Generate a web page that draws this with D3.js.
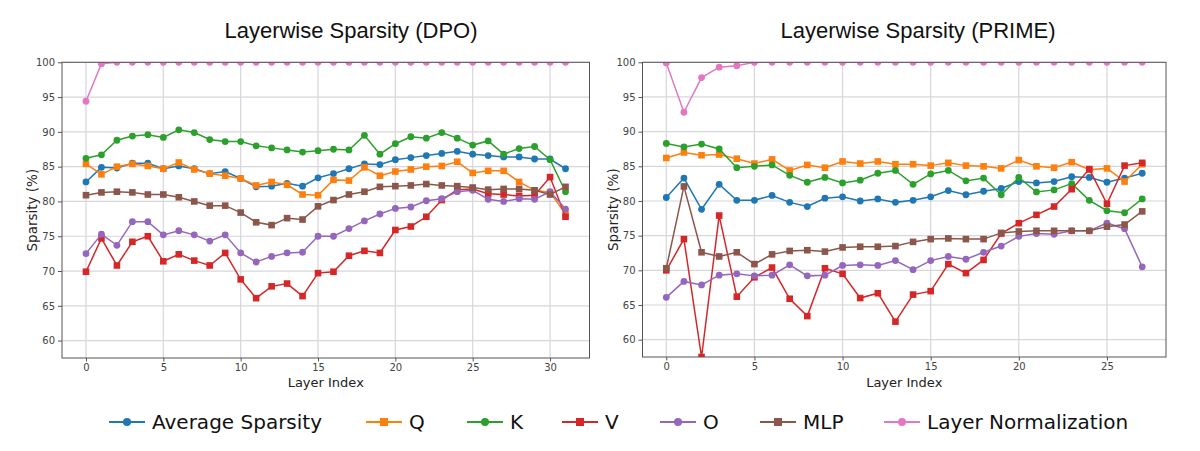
<!DOCTYPE html>
<html>
<head>
<meta charset="utf-8">
<script src="https://cdn.jsdelivr.net/npm/d3@7"></script>
<style>
  body { margin: 0; background: white; }
  svg { display: block; }
</style>
</head>
<body>
<div class="chart"></div>
<script>
// series names, colours, marker shapes (legend order)
var seriesNames = ["Average Sparsity", "Q", "K", "V", "O", "MLP", "Layer Normalization"]
var seriesColors = ["#1f77b4", "#ff7f0e", "#2ca02c", "#d62728", "#9467bd", "#8c564b", "#e377c2"]
var seriesMarkers = ["circle", "square", "circle", "square", "circle", "square", "circle"]

var yTicks = [60, 65, 70, 75, 80, 85, 90, 95, 100]
var xTicksDPO = [0, 5, 10, 15, 20, 25, 30]
var xTicksPRIME = [0, 5, 10, 15, 20, 25]

// DPO, layers 0..31
var dpoAvg = [82.8, 84.9, 84.8, 85.5, 85.5, 84.7, 85.1, 84.7, 84.0, 84.3, 83.3, 82.1, 82.2, 82.6, 82.2, 83.4, 84.0, 84.7, 85.4, 85.3, 86.0, 86.3, 86.6, 86.9, 87.2, 86.8, 86.6, 86.4, 86.4, 86.1, 86.1, 84.7]
var dpoQ = [85.4, 83.9, 85.0, 85.4, 85.1, 84.7, 85.6, 84.6, 84.0, 83.7, 83.3, 82.3, 82.8, 82.4, 81.0, 80.9, 83.1, 83.0, 84.9, 83.7, 84.3, 84.6, 85.0, 85.1, 85.7, 84.1, 84.4, 84.4, 82.8, 81.6, 81.3, 78.2]
var dpoK = [86.2, 86.7, 88.8, 89.4, 89.6, 89.2, 90.3, 89.9, 88.9, 88.6, 88.6, 88.0, 87.7, 87.4, 87.1, 87.3, 87.5, 87.4, 89.5, 86.8, 88.3, 89.3, 89.1, 89.9, 89.1, 88.1, 88.7, 86.8, 87.6, 87.9, 86.0, 81.4]
var dpoV = [69.9, 74.7, 70.8, 74.2, 75.0, 71.4, 72.4, 71.5, 70.8, 72.6, 68.8, 66.1, 67.8, 68.2, 66.4, 69.7, 69.9, 72.2, 72.9, 72.6, 75.9, 76.4, 77.8, 80.2, 81.7, 81.8, 81.1, 81.0, 80.8, 80.9, 83.5, 77.8]
var dpoO = [72.5, 75.3, 73.7, 77.1, 77.1, 75.2, 75.8, 75.2, 74.3, 75.2, 72.6, 71.3, 72.1, 72.6, 72.7, 75.0, 75.0, 76.1, 77.2, 78.2, 79.0, 79.2, 80.1, 80.4, 81.4, 81.6, 80.3, 80.0, 80.4, 80.3, 81.4, 78.9]
var dpoMLP = [80.9, 81.3, 81.4, 81.3, 81.0, 81.0, 80.6, 80.0, 79.4, 79.4, 78.4, 77.0, 76.6, 77.6, 77.4, 79.3, 80.2, 81.0, 81.4, 82.1, 82.2, 82.3, 82.5, 82.3, 82.2, 82.0, 81.7, 81.8, 81.8, 81.6, 81.0, 82.1]
var dpoLN = [94.4, 99.8, 100, 100, 100, 100, 100, 100, 100, 100, 100, 100, 100, 100, 100, 100, 100, 100, 100, 100, 100, 100, 100, 100, 100, 100, 100, 100, 100, 100, 100, 100]

// PRIME, layers 0..27
var primeAvg = [80.5, 83.3, 78.8, 82.4, 80.1, 80.1, 80.8, 79.8, 79.2, 80.4, 80.6, 80.0, 80.3, 79.8, 80.1, 80.6, 81.5, 80.9, 81.4, 81.8, 82.8, 82.6, 82.8, 83.5, 83.4, 82.7, 83.3, 84.0]
var primeQ = [86.2, 87.0, 86.6, 86.7, 86.1, 85.4, 86.0, 84.4, 85.2, 84.8, 85.7, 85.4, 85.7, 85.3, 85.3, 85.1, 85.5, 85.1, 85.0, 84.7, 85.9, 85.0, 84.8, 85.6, 84.5, 84.7, 82.8, 85.3]
var primeK = [88.3, 87.8, 88.2, 87.5, 84.8, 85.0, 85.2, 83.7, 82.7, 83.4, 82.6, 83.0, 84.0, 84.4, 82.4, 83.9, 84.4, 82.9, 83.3, 80.9, 83.4, 81.3, 81.6, 82.5, 80.1, 78.6, 78.3, 80.3]
var primeV = [70.0, 74.5, 57.5, 77.9, 66.2, 69.0, 70.4, 65.9, 63.4, 70.3, 69.5, 66.0, 66.7, 62.6, 66.5, 67.0, 70.9, 69.6, 71.5, 75.3, 76.8, 78.0, 79.2, 81.7, 84.6, 79.6, 85.1, 85.5]
var primeO = [66.1, 68.4, 67.9, 69.3, 69.5, 69.2, 69.3, 70.8, 69.2, 69.3, 70.7, 70.8, 70.7, 71.4, 70.1, 71.4, 72.0, 71.6, 72.6, 73.5, 74.9, 75.3, 75.2, 75.7, 75.7, 76.8, 76.0, 70.5]
var primeMLP = [70.3, 82.1, 72.6, 72.0, 72.6, 70.9, 72.3, 72.8, 72.9, 72.7, 73.3, 73.4, 73.4, 73.5, 74.1, 74.5, 74.6, 74.5, 74.5, 75.4, 75.6, 75.7, 75.7, 75.7, 75.7, 76.3, 76.6, 78.5]
var primeLN = [99.9, 92.8, 97.8, 99.3, 99.5, 100, 100, 100, 100, 100, 100, 100, 100, 100, 100, 100, 100, 100, 100, 100, 100, 100, 100, 100, 100, 100, 100, 100]

var width = 1200, height = 451

var svg = d3.select(".chart")
    .append("svg")
    .attr("width", width)
    .attr("height", height)

function drawPanel(opts) {
    var x = d3.scaleLinear().domain(opts.xDomain).range([opts.left, opts.right])
    var y = d3.scaleLinear().domain([57.5, 100]).range([opts.bottom, opts.top])

    var g = svg.append("g")

    // grid
    g.selectAll(".vgrid")
        .data(opts.xTicks)
        .enter().append("line")
        .attr("x1", function(d) { return x(d) })
        .attr("x2", function(d) { return x(d) })
        .attr("y1", opts.top)
        .attr("y2", opts.bottom)
        .attr("stroke", "#d6d6dc")
        .attr("stroke-width", 1.2)

    g.selectAll(".hgrid")
        .data(yTicks)
        .enter().append("line")
        .attr("x1", opts.left)
        .attr("x2", opts.right)
        .attr("y1", function(d) { return y(d) })
        .attr("y2", function(d) { return y(d) })
        .attr("stroke", "#d6d6dc")
        .attr("stroke-width", 1.2)

    // axes
    var xAxis = g.append("g")
        .attr("transform", "translate(0," + opts.bottom + ")")
        .call(d3.axisBottom(x).tickValues(opts.xTicks).tickSize(3.5).tickPadding(2.5))
    var yAxis = g.append("g")
        .attr("transform", "translate(" + opts.left + ",0)")
        .call(d3.axisLeft(y).tickValues(yTicks).tickSize(4).tickPadding(3))

    ;[xAxis, yAxis].forEach(function(a) {
        a.select(".domain").remove()
        a.selectAll("line").attr("stroke", "#555")
        a.selectAll("text")
            .attr("fill", "#444")
            .style("font-family", "DejaVu Sans")
            .style("font-size", "10px")
    })

    // markers are clipped at the axes box, like matplotlib
    var clipId = "clip" + opts.name
    svg.append("clipPath").attr("id", clipId)
        .append("rect")
        .attr("x", opts.left)
        .attr("y", opts.top)
        .attr("width", opts.right - opts.left)
        .attr("height", opts.bottom - opts.top)

    var plot = g.append("g").attr("clip-path", "url(#" + clipId + ")")

    var line = d3.line()
        .x(function(d, i) { return x(i) })
        .y(function(d) { return y(d) })

    opts.series.forEach(function(vals, s) {
        var sg = plot.append("g")
        sg.append("path")
            .datum(vals)
            .attr("d", line)
            .attr("fill", "none")
            .attr("stroke", seriesColors[s])
            .attr("stroke-width", 1.5)

        if (seriesMarkers[s] === "circle") {
            sg.selectAll("circle")
                .data(vals)
                .enter().append("circle")
                .attr("cx", function(d, i) { return x(i) })
                .attr("cy", function(d) { return y(d) })
                .attr("r", 3.4)
                .attr("fill", seriesColors[s])
        } else {
            sg.selectAll("rect")
                .data(vals)
                .enter().append("rect")
                .attr("x", function(d, i) { return x(i) - 3.3 })
                .attr("y", function(d) { return y(d) - 3.3 })
                .attr("width", 6.6)
                .attr("height", 6.6)
                .attr("fill", seriesColors[s])
        }
    })

    // frame
    g.append("rect")
        .attr("x", opts.left)
        .attr("y", opts.top)
        .attr("width", opts.right - opts.left)
        .attr("height", opts.bottom - opts.top)
        .attr("fill", "none")
        .attr("stroke", "#555")
        .attr("stroke-width", 1)

    // labels
    svg.append("text")
        .attr("x", opts.titleX)
        .attr("y", 38)
        .attr("text-anchor", "middle")
        .style("font-family", "Liberation Sans, Arial")
        .style("font-size", "22px")
        .attr("fill", "#111")
        .text(opts.title)

    svg.append("text")
        .attr("x", (opts.left + opts.right) / 2)
        .attr("y", 387)
        .attr("text-anchor", "middle")
        .style("font-family", "DejaVu Sans")
        .style("font-size", "13px")
        .attr("fill", "#222")
        .text("Layer Index")

    svg.append("text")
        .attr("transform", "translate(" + (opts.left - 25) + "," + ((opts.top + opts.bottom) / 2) + ") rotate(-90)")
        .attr("text-anchor", "middle")
        .style("font-family", "DejaVu Sans")
        .style("font-size", "13.5px")
        .attr("fill", "#222")
        .text("Sparsity (%)")
}

drawPanel({
    name: "dpo",
    title: "Layerwise Sparsity (DPO)",
    titleX: 351,
    left: 62, right: 589.5, top: 62.3, bottom: 358,
    xDomain: [-1.55, 32.55],
    xTicks: xTicksDPO,
    series: [dpoAvg, dpoQ, dpoK, dpoV, dpoO, dpoMLP, dpoLN]
})

drawPanel({
    name: "prime",
    title: "Layerwise Sparsity (PRIME)",
    titleX: 918,
    left: 642.5, right: 1166, top: 62.3, bottom: 357,
    xDomain: [-1.35, 28.35],
    xTicks: xTicksPRIME,
    series: [primeAvg, primeQ, primeK, primeV, primeO, primeMLP, primeLN]
})

// legend
var legendX = [109, 366, 467, 562, 660, 760, 884]

var legendItem = svg.selectAll(".legendItem")
    .data(seriesNames)
    .enter().append("g")
    .attr("class", "legendItem")
    .attr("transform", function(d, i) {
        return "translate(" + legendX[i] + "," + 422 + ")"
    })

legendItem.append("line")
    .attr("x1", 0)
    .attr("x2", 36)
    .attr("stroke", function(d, i) { return seriesColors[i] })
    .attr("stroke-width", 2)

legendItem.each(function(d, i) {
    var item = d3.select(this)
    if (seriesMarkers[i] === "circle") {
        item.append("circle").attr("cx", 18).attr("r", 4).attr("fill", seriesColors[i])
    } else {
        item.append("rect").attr("x", 14).attr("y", -4).attr("width", 8).attr("height", 8).attr("fill", seriesColors[i])
    }
})

legendItem.append("text")
    .attr("x", 43)
    .attr("y", 7)
    .text(function(d) { return d })
    .style("font-family", "DejaVu Sans")
    .style("font-size", "20px")
    .attr("fill", "#111")
</script>
</body>
</html>
